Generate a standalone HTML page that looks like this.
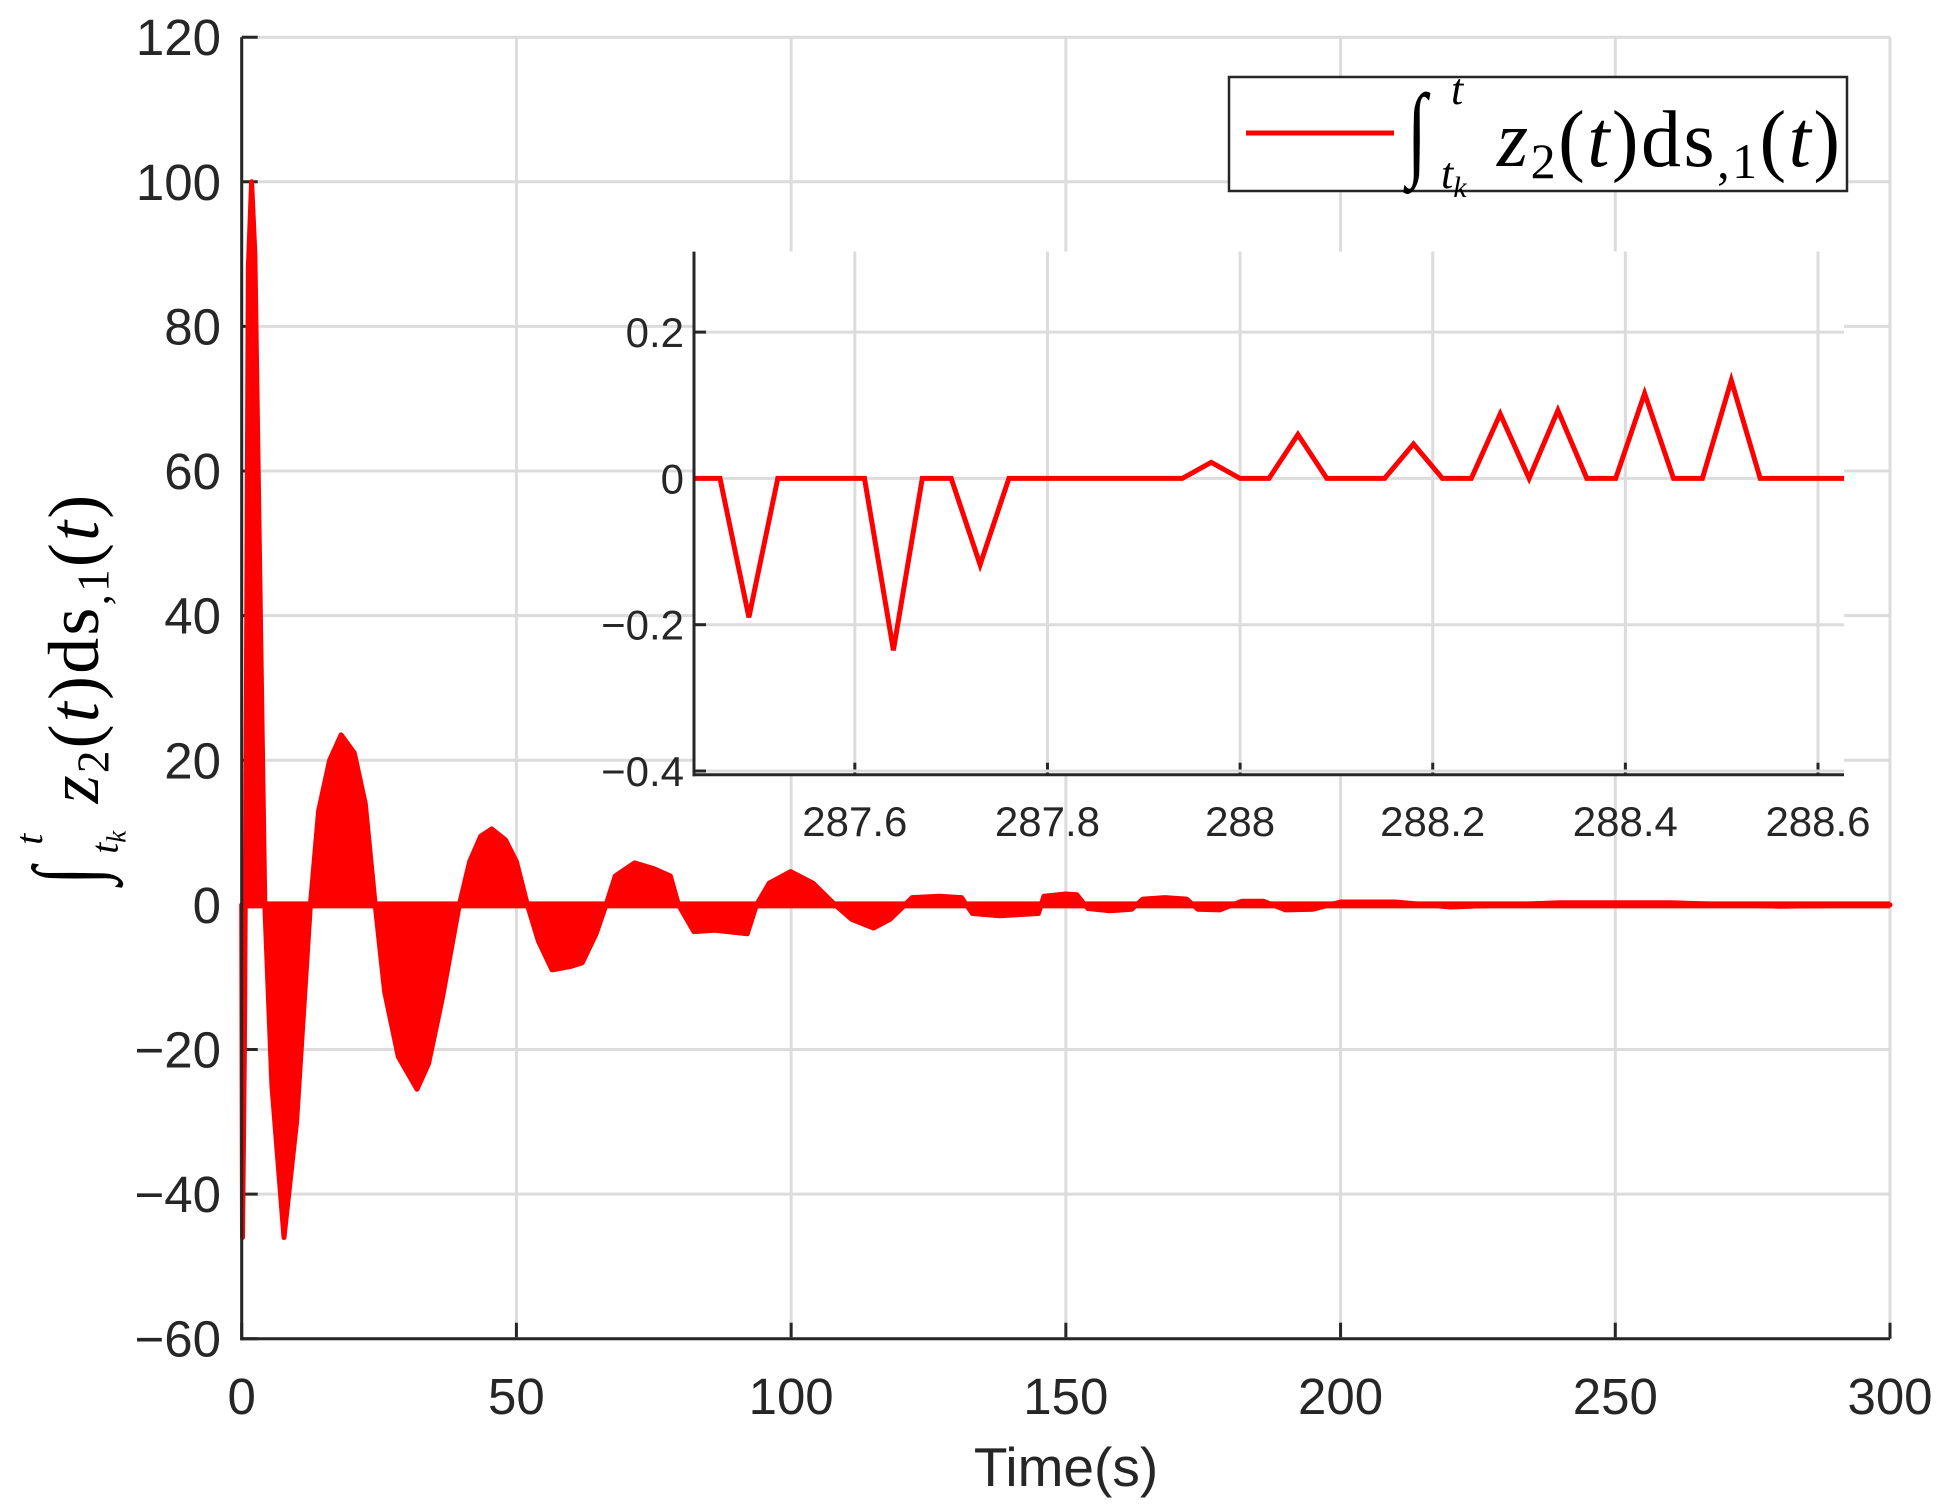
<!DOCTYPE html>
<html><head><meta charset="utf-8"><style>
html,body{margin:0;padding:0;background:#fff;}
svg{display:block;}
text{font-family:"Liberation Sans",Arial,sans-serif;fill:#262626;}
.m{font-family:"Liberation Serif","DejaVu Serif",serif;fill:#000;}
</style></head><body>
<svg id="chart" width="1943" height="1507" viewBox="0 0 1943 1507" xmlns="http://www.w3.org/2000/svg">
<defs>
<g id="mathlabel">
  <text class="m" x="0" y="0" font-size="72" font-style="italic" transform="scale(1,1.45)">∫</text>
  <text class="m" x="44" y="-62" font-size="44" font-style="italic">t</text>
  <text class="m" x="34" y="22" font-size="44" font-style="italic">t<tspan font-size="30" dy="9">k</tspan></text>
  <text class="m" x="90" y="0" font-size="80" textLength="343" lengthAdjust="spacing"><tspan font-style="italic">z</tspan><tspan font-size="50" dy="12">2</tspan><tspan dy="-12">(</tspan><tspan font-style="italic">t</tspan><tspan>)ds</tspan><tspan font-size="50" dy="12">,1</tspan><tspan dy="-12">(</tspan><tspan font-style="italic">t</tspan><tspan>)</tspan></text>
</g>
</defs>
<g id="main"></g>
<g id="inset"></g>
<g id="legend">
  <rect x="1229" y="77" width="618" height="114" fill="#fff" stroke="#262626" stroke-width="2.5"/>
  <line x1="1246" y1="133" x2="1394" y2="133" stroke="#ff0000" stroke-width="5"/>
  <g transform="translate(1407,166)"><use href="#mathlabel"/></g>
</g>
<g transform="translate(78,690) rotate(-90) scale(0.9) translate(-216,22)"><use href="#mathlabel"/></g>
<text x="1066" y="1486" text-anchor="middle" font-size="55">Time(s)</text>
</svg>
<script>
// main chart data
const xTicks = [0, 50, 100, 150, 200, 250, 300];
const yTicks = [-60, -40, -20, 0, 20, 40, 60, 80, 100, 120];
const envT = [0, 0.15, 0.5, 0.8, 1.2, 1.8, 2.4, 3.0, 4.2, 5.5, 7.7, 10, 12.5, 14, 16, 18.1, 20.5, 22.5, 24.3, 26, 28.5, 31.9, 34, 36.5, 39.6, 41.5, 43.5, 45.5, 48, 50, 52, 54, 56.5, 60, 62, 64.5, 66.3, 68, 71.5, 75, 78, 79.5, 82.3, 86, 92, 93.7, 96, 99.9, 104, 108, 111, 115, 118, 120.7, 122, 127, 131, 133, 138, 145, 146, 150, 152, 154, 158, 162, 164, 168, 172, 174, 178, 182, 186, 190, 195, 200, 210, 220, 240, 260, 280, 300];
const envV = [0, -46, -20, 20, 88, 100, 90, 60, 0, -25, -46, -30, 0, 13, 20, 23.5, 21, 14, 0, -12, -21, -25.5, -22, -13, 0, 6, 9.5, 10.5, 9, 6, 0, -5, -9, -8.5, -8, -4, 0, 4, 5.8, 5, 4, 0, -3.7, -3.5, -4, 0, 3, 4.6, 3, 0, -2, -3.2, -2, 0, 1, 1.2, 1.0, -1.2, -1.5, -1.2, 1.2, 1.5, 1.4, -0.5, -0.8, -0.6, 0.8, 1.0, 0.8, -0.6, -0.7, 0.5, 0.5, -0.7, -0.6, 0.4, 0.4, -0.3, 0.3, 0.3, -0.2, 0];
// inset data
const insT = [287.433, 287.46, 287.49, 287.52, 287.61, 287.64, 287.67, 287.70, 287.73, 287.76, 287.94, 287.97, 288.00, 288.03, 288.06, 288.09, 288.15, 288.18, 288.21, 288.24, 288.27, 288.30, 288.33, 288.36, 288.39, 288.42, 288.45, 288.48, 288.51, 288.54, 288.627];
const insV = [0, 0, -0.19, 0, 0, -0.235, 0, 0, -0.118, 0, 0, 0.022, 0, 0, 0.06, 0, 0, 0.047, 0, 0, 0.088, 0, 0.093, 0, 0, 0.116, 0, 0, 0.134, 0, 0];
const insXTicks = [287.6, 287.8, 288, 288.2, 288.4, 288.6];
const insYTicks = [-0.4, -0.2, 0, 0.2];

const NS = 'http://www.w3.org/2000/svg';
function mk(tag, attrs, parent){const e=document.createElementNS(NS,tag);for(const k in attrs)e.setAttribute(k,attrs[k]);parent.appendChild(e);return e;}
const fmt = v => (v<0?'\u2212':'')+String(Math.abs(v));

// main axes
const X0=241.7, X1=1890, Y0=37.2, Y1=1338.7;
const xs = t => X0 + (t-0)/(300-0)*(X1-X0);
const ys = v => Y1 - (v+60)/(180)*(Y1-Y0);
const main = document.getElementById('main');
xTicks.forEach(t=>{
  const g=mk('line',{x1:xs(t),x2:xs(t),y1:Y0,y2:Y1,stroke:'#dcdcdc','stroke-width':3},main);
  
  
  const k=mk('line',{x1:xs(t),x2:xs(t),y1:Y1,y2:Y1-16,stroke:'#262626','stroke-width':3},main);
  
  
  const l=mk('text',{x:xs(t),y:1414,'text-anchor':'middle','font-size':51},main);
  l.textContent=fmt(t);
  
  
});
yTicks.forEach(v=>{
  const g=mk('line',{x1:X0,x2:X1,y1:ys(v),y2:ys(v),stroke:'#dcdcdc','stroke-width':3},main);
  
  
  const k=mk('line',{x1:X0,x2:X0+16,y1:ys(v),y2:ys(v),stroke:'#262626','stroke-width':3},main);
  
  
  const l=mk('text',{x:221,y:ys(v)+18,'text-anchor':'end','font-size':51},main);
  l.textContent=fmt(v);
  
  
});
// series fill
let d='M'+xs(envT[0])+','+ys(0);
for(let i=0;i<envT.length;i++) d+=' L'+xs(envT[i]).toFixed(1)+','+ys(envV[i]).toFixed(1);
d+=' L'+xs(300)+','+ys(0)+' Z';
const area=mk('path',{d:d,fill:'#ff0000',stroke:'#ff0000','stroke-width':5,'stroke-linejoin':'round'},main);


const zl=mk('line',{x1:xs(0),x2:xs(300),y1:ys(0),y2:ys(0),stroke:'#ff0000','stroke-width':7},main);


const ax1=mk('line',{x1:X0,x2:X0,y1:Y0,y2:Y1+1.5,stroke:'#262626','stroke-width':3},main);


const ax2=mk('line',{x1:X0-1.5,x2:X1,y1:Y1,y2:Y1,stroke:'#262626','stroke-width':3},main);



// inset
const IX0=694, IX1=1844, IY0=251.6, IY1=774.7;
const ixs = t => IX0 + (t-287.433)/(288.627-287.433)*(IX1-IX0);
const iys = v => 478.4 - v/0.2*146.3;
const ins=document.getElementById('inset');
const bg=mk('rect',{x:IX0,y:IY0,width:IX1-IX0,height:IY1-IY0,fill:'#fff'},ins);


insXTicks.forEach(t=>{
  const g=mk('line',{x1:ixs(t),x2:ixs(t),y1:IY0,y2:IY1,stroke:'#dcdcdc','stroke-width':3},ins);
  
  
  const k=mk('line',{x1:ixs(t),x2:ixs(t),y1:IY1,y2:IY1-12,stroke:'#262626','stroke-width':3},ins);
  
  
  const l=mk('text',{x:ixs(t),y:836,'text-anchor':'middle','font-size':42},ins);
  l.textContent=String(t);
  
  
});
insYTicks.forEach(v=>{
  const g=mk('line',{x1:IX0,x2:IX1,y1:iys(v),y2:iys(v),stroke:'#dcdcdc','stroke-width':3},ins);
  
  
  const k=mk('line',{x1:IX0,x2:IX0+12,y1:iys(v),y2:iys(v),stroke:'#262626','stroke-width':3},ins);
  
  
  const l=mk('text',{x:684,y:iys(v)+15,'text-anchor':'end','font-size':42},ins);
  l.textContent=fmt(v);
  
  
});
const pts=insT.map((t,i)=>ixs(t).toFixed(1)+','+iys(insV[i]).toFixed(1)).join(' ');
const pl=mk('polyline',{points:pts,fill:'none',stroke:'#ff0000','stroke-width':5,'stroke-linejoin':'miter'},ins);


const ia1=mk('line',{x1:IX0,x2:IX0,y1:IY0,y2:IY1+1.5,stroke:'#262626','stroke-width':3},ins);


const ia2=mk('line',{x1:IX0-1.5,x2:IX1,y1:IY1,y2:IY1,stroke:'#262626','stroke-width':3},ins);


</script>
</body></html>
